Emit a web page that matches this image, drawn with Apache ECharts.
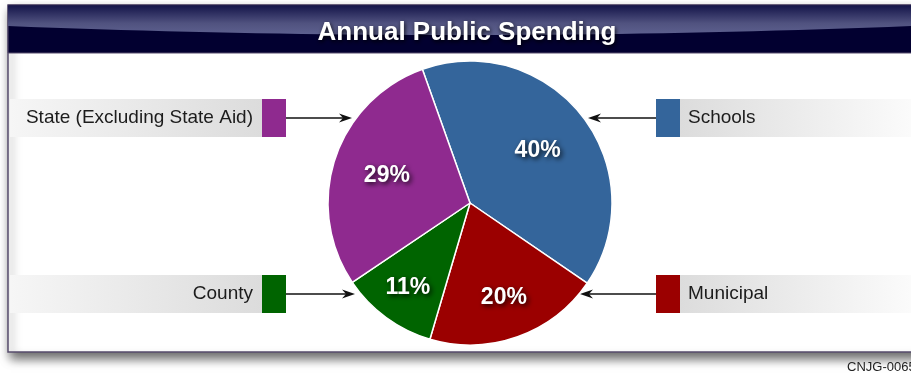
<!DOCTYPE html>
<html>
<head>
<meta charset="utf-8">
<title>Annual Public Spending</title>
<script src="https://cdn.jsdelivr.net/npm/echarts@6/dist/echarts.min.js"></script>
<style>
  html, body { margin: 0; padding: 0; background: #ffffff; }
  #chart { width: 911px; height: 373px; }
</style>
</head>
<body>
<div id="chart"></div>
<script>
// Spending shares, listed clockwise starting from the top of the pie
const categories = ['Schools', 'Municipal', 'County', 'State (Excluding State Aid)'];
const shares = [40, 20, 11, 29];
const sliceColors = ['#34659b', '#9b0000', '#006400', '#8f2a8f'];
const chartTitle = 'Annual Public Spending';
const footnote = 'CNJG-0065';

// Layout constants
const CX = 470, CY = 203, R = 142;
const START = 109.6;                       // degrees, counter-clockwise from 3 o'clock
const labelRadius = [0.58, 0.69, 0.72, 0.595]; // fraction of radius for the percent labels
// which side each callout sits on, and its row
const callout = [
  { side: 'right', y: 118, tip: 588 },
  { side: 'right', y: 294, tip: 580 },
  { side: 'left',  y: 294, tip: 355 },
  { side: 'left',  y: 118, tip: 352 }
];

const chart = echarts.init(document.getElementById('chart'), null, { renderer: 'canvas' });

const total = shares.reduce((a, b) => a + b, 0);
let cum = 0;
const pieData = categories.map((name, i) => {
  const mid = (START - (cum + shares[i] / 2) / total * 360) * Math.PI / 180;
  cum += shares[i];
  const shift = labelRadius[i] * R - R / 2;
  return {
    name: name,
    value: shares[i],
    itemStyle: { color: sliceColors[i] },
    label: { offset: [shift * Math.cos(mid), -shift * Math.sin(mid)] }
  };
});

function arrowHead(tipX, y, dir) {
  // barbed arrow head; dir = +1 points right, -1 points left
  const L = 13, W = 4.5, N = 9;
  return [[tipX, y], [tipX - dir * L, y - W], [tipX - dir * N, y], [tipX - dir * L, y + W]];
}

// outline of the glossy highlight: flat top, lower edge sagging toward the middle
function glossOutline() {
  const pts = [[8, 5.5], [911, 5.5]];
  const x0 = 8, x1 = 911, yEdge = 26, yCtrl = 44, cx = 460;
  for (let k = 0; k <= 40; k++) {
    const t = k / 40;
    const x = (1 - t) * (1 - t) * x1 + 2 * (1 - t) * t * cx + t * t * x0;
    const y = (1 - t) * (1 - t) * yEdge + 2 * (1 - t) * t * yCtrl + t * t * yEdge;
    pts.push([x, y]);
  }
  return pts;
}

const graphics = [];
// white panel with frame and drop shadow
graphics.push({
  type: 'rect', z: 0,
  shape: { x: 8, y: 5, width: 920, height: 347 },
  style: { fill: '#ffffff', stroke: '#574c6c', lineWidth: 1.5,
           shadowBlur: 10, shadowOffsetX: 3, shadowOffsetY: 6, shadowColor: 'rgba(0,0,0,0.6)' }
});
// title band
graphics.push({
  type: 'rect', z: 1,
  shape: { x: 8, y: 5, width: 920, height: 48 },
  style: { fill: '#020030', stroke: '#574c6c', lineWidth: 1 }
});
// glossy highlight on the upper part of the band
graphics.push({
  type: 'polygon', z: 1,
  shape: { points: glossOutline() },
  style: {
    fill: new echarts.graphic.LinearGradient(0, 0, 0, 1, [
      { offset: 0, color: '#15154a' },
      { offset: 0.6, color: '#50527f' },
      { offset: 1, color: '#5e6190' }
    ])
  }
});

categories.forEach((name, i) => {
  const c = callout[i];
  const top = c.y - 19, h = 38;
  if (c.side === 'left') {
    graphics.push({
      type: 'rect', z: 2,
      shape: { x: 10, y: top, width: 252, height: h },
      style: { fill: new echarts.graphic.LinearGradient(0, 0, 1, 0, [
        { offset: 0, color: '#f6f6f6' }, { offset: 1, color: '#dcdcdc' }]) }
    });
    graphics.push({ type: 'rect', z: 3, shape: { x: 262, y: top, width: 24, height: h },
                    style: { fill: sliceColors[i] } });
    graphics.push({ type: 'line', z: 3, shape: { x1: 286, y1: c.y, x2: c.tip - 9, y2: c.y },
                    style: { stroke: '#111', lineWidth: 1.3 } });
    graphics.push({ type: 'polygon', z: 3, shape: { points: arrowHead(c.tip, c.y, 1) },
                    style: { fill: '#111' } });
    graphics.push({ type: 'text', z: 4, x: 253, y: c.y,
                    style: { text: name, align: 'right', verticalAlign: 'middle',
                             font: '19px "Liberation Sans", Arial, sans-serif', fill: '#1c1c1c' } });
  } else {
    graphics.push({
      type: 'rect', z: 2,
      shape: { x: 680, y: top, width: 231, height: h },
      style: { fill: new echarts.graphic.LinearGradient(0, 0, 1, 0, [
        { offset: 0, color: '#dcdcdc' }, { offset: 1, color: '#fbfbfb' }]) }
    });
    graphics.push({ type: 'rect', z: 3, shape: { x: 656, y: top, width: 24, height: h },
                    style: { fill: sliceColors[i] } });
    graphics.push({ type: 'line', z: 3, shape: { x1: 656, y1: c.y, x2: c.tip + 9, y2: c.y },
                    style: { stroke: '#111', lineWidth: 1.3 } });
    graphics.push({ type: 'polygon', z: 3, shape: { points: arrowHead(c.tip, c.y, -1) },
                    style: { fill: '#111' } });
    graphics.push({ type: 'text', z: 4, x: 688, y: c.y,
                    style: { text: name, align: 'left', verticalAlign: 'middle',
                             font: '19px "Liberation Sans", Arial, sans-serif', fill: '#1c1c1c' } });
  }
});

// footnote code, bottom right
graphics.push({ type: 'text', z: 4, x: 847, y: 367,
                style: { text: footnote, align: 'left', verticalAlign: 'middle',
                         font: '13px "Liberation Sans", Arial, sans-serif', fill: '#222' } });

chart.setOption({
  animation: false,
  backgroundColor: '#ffffff',
  title: {
    text: chartTitle,
    left: 462, top: 15, textAlign: 'center',
    textStyle: {
      color: '#ffffff', fontSize: 26, fontWeight: 'bold',
      fontFamily: '"Liberation Sans", Arial, sans-serif',
      textShadowColor: 'rgba(0,0,0,0.9)', textShadowBlur: 4,
      textShadowOffsetX: 1, textShadowOffsetY: 2
    }
  },
  graphic: graphics,
  series: [{
    type: 'pie',
    z: 5,
    center: [CX, CY],
    radius: [0, R],
    startAngle: START,
    clockwise: true,
    label: {
      show: true,
      position: 'inside',
      formatter: '{c}%',
      color: '#ffffff',
      fontSize: 23,
      fontWeight: 'bold',
      fontFamily: '"Liberation Sans", Arial, sans-serif',
      textShadowColor: 'rgba(0,0,0,0.85)', textShadowBlur: 5,
      textShadowOffsetX: 2, textShadowOffsetY: 2
    },
    labelLine: { show: false },
    itemStyle: { borderColor: '#ffffff', borderWidth: 1.5 },
    emphasis: { disabled: true },
    data: pieData
  }]
});
</script>
</body>
</html>
